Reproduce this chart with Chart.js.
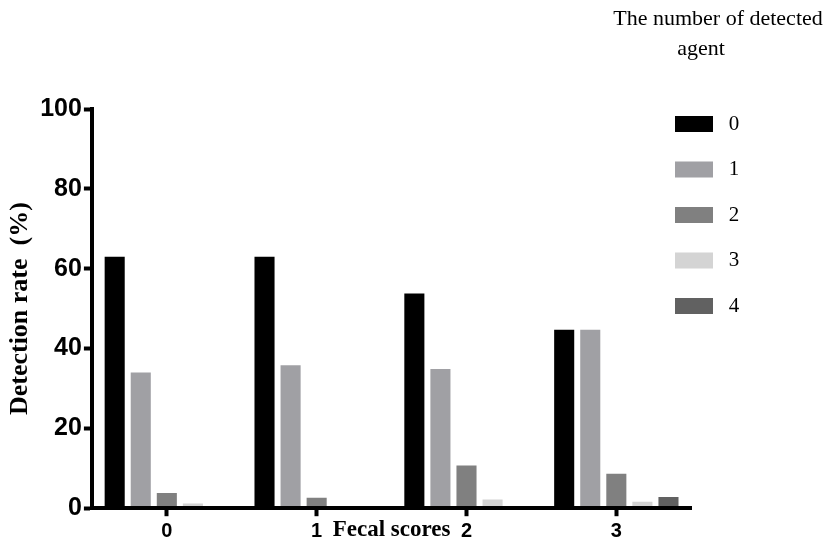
<!DOCTYPE html>
<html>
<head>
<meta charset="utf-8">
<script src="https://cdn.jsdelivr.net/npm/chart.js@4.4.1/dist/chart.umd.min.js"></script>
<style>
  html, body { margin: 0; padding: 0; background: #ffffff; }
  #wrap { position: relative; width: 827px; height: 547px; }
</style>
</head>
<body>
<div id="wrap"><canvas id="c"></canvas></div>
<script>
// ---- data ----
const categories = ['0', '1', '2', '3'];            // Fecal scores
const agentLabels = ['0', '1', '2', '3', '4'];      // number of detected agents
const agent0 = [63.0, 63.0, 53.8, 44.7];
const agent1 = [34.0, 35.8, 34.9, 44.7];
const agent2 = [3.8, 2.6, 10.7, 8.6];
const agent3 = [1.2, 0, 2.2, 1.6];
const agent4 = [0, 0, 0, 2.8];
const yTicks = [0, 20, 40, 60, 80, 100];
const headerLines = ['The number of detected', 'agent'];
const xTitle = 'Fecal scores';
const yTitle = 'Detection rate  (%)';

// ---- styles ----
const colors = ['#000000', '#a0a0a4', '#808080', '#d4d4d4', '#616161'];
const seriesValues = [agent0, agent1, agent2, agent3, agent4];

const datasets = agentLabels.map((lab, i) => ({
  label: lab,
  data: seriesValues[i],
  backgroundColor: colors[i],
  borderWidth: 0,
  categoryPercentage: 0.87,
  barPercentage: 0.77
}));

const legendPlace = {
  id: 'legendPlace',
  afterLayout(chart) {
    const l = chart.legend;
    if (!l) return;
    const w = l.width, h = l.height;
    l.left = 650.5; l.right = l.left + w;
    l.top = 89; l.bottom = l.top + h;
  }
};

const header = {
  id: 'header',
  afterDraw(chart) {
    const ctx = chart.ctx;
    ctx.save();
    ctx.fillStyle = '#000';
    ctx.font = '22px "Liberation Serif"';
    ctx.textAlign = 'center';
    ctx.textBaseline = 'alphabetic';
    ctx.fillText(headerLines[0], 718, 25);
    ctx.fillText(headerLines[1], 701, 55);
    ctx.restore();
  }
};

new Chart(document.getElementById('c'), {
  type: 'bar',
  data: { labels: categories, datasets },
  plugins: [legendPlace, header],
  options: {
    responsive: true,
    maintainAspectRatio: false,
    animation: false,
    layout: { padding: { left: 5, top: 109, right: 37, bottom: 3 } },
    plugins: {
      tooltip: { enabled: false },
      title: { display: false },
      legend: {
        display: true,
        position: 'right',
        align: 'start',
        labels: {
          boxWidth: 38,
          boxHeight: 16,
          padding: 24.5,
          color: '#000',
          font: { family: '"Liberation Serif"', size: 21, weight: 'normal' },
          generateLabels(chart) {
            const items = Chart.defaults.plugins.legend.labels.generateLabels(chart);
            return items.map(it => Object.assign(it, { text: ' ' + it.text, lineWidth: 0 }));
          }
        }
      }
    },
    scales: {
      x: {
        grid: { display: true, drawOnChartArea: false, drawTicks: true, offset: false,
                tickLength: 8, tickWidth: 4, tickColor: '#000' },
        border: { display: true, color: '#000', width: 4, z: 1 },
        ticks: { color: '#000', padding: 3,
                 font: { family: '"Liberation Sans"', size: 20, weight: 'bold' } },
        title: { display: true, text: xTitle, color: '#000',
                 font: { family: '"Liberation Serif"', size: 23, weight: 'bold' },
                 padding: { top: -29.8, bottom: 0 } }
      },
      y: {
        min: 0,
        max: 100,
        afterBuildTicks(scale) { scale.ticks = yTicks.map(v => ({ value: v })); },
        grid: { display: true, drawOnChartArea: false, drawTicks: true,
                tickLength: 8, tickWidth: 4, tickColor: '#000' },
        border: { display: true, color: '#000', width: 4, z: 1 },
        ticks: { color: '#000', padding: 2,
                 font: { family: '"Liberation Sans"', size: 25, weight: 'bold' } },
        title: { display: true, text: yTitle, color: '#000',
                 font: { family: '"Liberation Serif"', size: 26, weight: 'bold' },
                 padding: { top: 0, bottom: 2 } }
      }
    }
  }
});
</script>
</body>
</html>
